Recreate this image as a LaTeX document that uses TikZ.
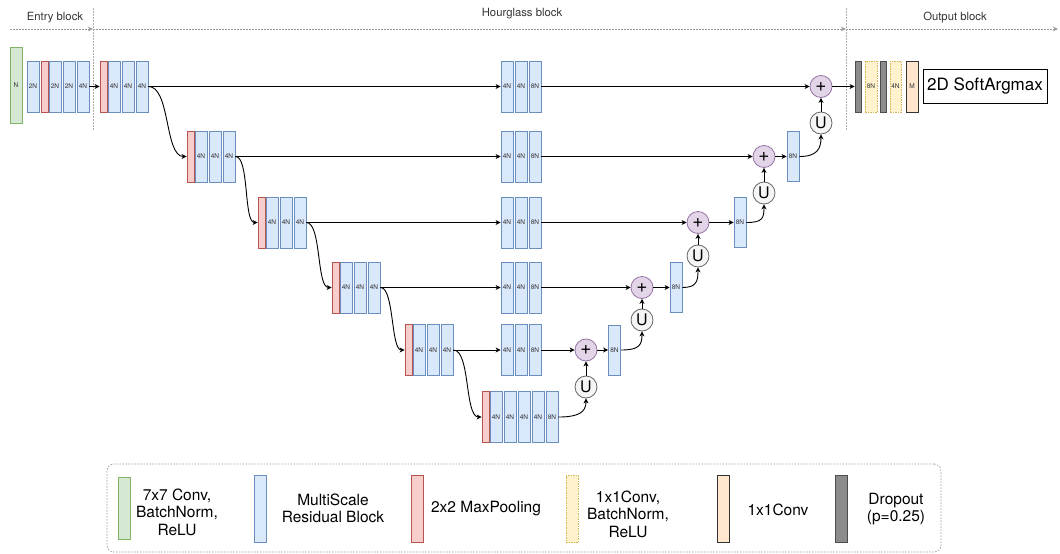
\documentclass[tikz,border=0pt]{standalone}
\usepackage{fontspec}
\setmainfont{TeX Gyre Heros}
\usetikzlibrary{arrows.meta}
\definecolor{blF}{HTML}{DAE8FC}\definecolor{blS}{HTML}{6C8EBF}
\definecolor{rdF}{HTML}{F8CECC}\definecolor{rdS}{HTML}{B85450}
\definecolor{grF}{HTML}{D5E8D4}\definecolor{grS}{HTML}{82B366}
\definecolor{puF}{HTML}{E1D5E7}\definecolor{puS}{HTML}{9673A6}
\definecolor{uF}{HTML}{F5F5F5}\definecolor{uS}{HTML}{666666}
\definecolor{yeF}{HTML}{FFF2CC}\definecolor{yeS}{HTML}{D6B656}
\definecolor{orF}{HTML}{FFE6CC}\definecolor{orS}{HTML}{333333}
\definecolor{gyF}{HTML}{8C8C8C}\definecolor{gyS}{HTML}{4D4D4D}
\definecolor{txt}{HTML}{333333}
\definecolor{dv}{HTML}{9A9A9A}
\tikzset{
  base/.style={line width=0.8pt, inner sep=0pt, minimum height=51pt, text=txt, font=\fontsize{6.5}{7}\selectfont},
  blk/.style={base, draw=blS, fill=blF, minimum width=12pt},
  mpb/.style={base, draw=rdS, fill=rdF, minimum width=7pt},
  cbr/.style={base, draw=grS, fill=grF, minimum width=12pt},
  yeb/.style={base, draw=yeS, fill=yeF, minimum width=12pt, dash pattern=on 1.5pt off 1pt},
  orb/.style={base, draw=orS, fill=orF, minimum width=12pt},
  gyb/.style={base, draw=gyS, fill=gyF, minimum width=6pt},
  plusn/.style={circle, draw=puS, fill=puF, line width=0.8pt, minimum size=22pt, inner sep=0pt, font=\fontsize{19}{19}\selectfont},
  upn/.style={circle, draw=uS, fill=uF, line width=0.8pt, minimum size=22pt, inner sep=0pt, font=\fontsize{16}{16}\selectfont},
  arr/.style={-{Stealth[length=5pt,width=5pt,inset=1.5pt]}, line width=0.9pt, black},
  topline/.style={draw=dv, line width=0.7pt, dash pattern=on 1.5pt off 1.5pt, -{Stealth[length=5pt,width=4.5pt,inset=1.5pt]}},
  divider/.style={draw=dv!80, line width=0.7pt, dash pattern=on 1.5pt off 1.5pt},
  toplab/.style={font=\fontsize{11.3}{12}\selectfont, text=txt},
  legtxt/.style={font=\fontsize{15.5}{17.5}\selectfont, align=center, text=black},
}
\begin{document}
\begin{tikzpicture}[x=1pt,y=-1pt]
\useasboundingbox (0,0) rectangle (1060,554);

% top labels and separators
\coordinate (t0) at (10,29);
\coordinate (t1) at (93,29);
\coordinate (t2) at (846,29);
\coordinate (t3) at (1058,29);
\draw[topline] (t0) -- (t1);
\draw[topline] (t1) -- (t2);
\draw[topline] (t2) -- (t3);
\coordinate (v1a) at (93,8); \coordinate (v1b) at (93,131);
\coordinate (v2a) at (846,8); \coordinate (v2b) at (846,131);
\draw[divider] (v1a) -- (v1b);
\draw[divider] (v2a) -- (v2b);
\node[toplab] (lab1) at (55,18) {Entry block};
\node[toplab] (lab2) at (522,13.5) {Hourglass block};
\node[toplab] (lab3) at (955,18) {Output block};

% entry block
\node[cbr, minimum height=76pt] (e0) at (16,85) {N};
\node[blk] (e1) at (33,86.5) {2N};
\node[mpb] (e2) at (44.5,86.5) {};
\node[blk] (e3) at (55,86.5) {2N};
\node[blk] (e4) at (69,86.5) {2N};
\node[blk] (e5) at (83,86.5) {4N};

% encoder rows
\node[mpb] (r1m) at (103.5,86.5) {};
\node[blk] (r1a) at (114,86.5) {4N};
\node[blk] (r1b) at (128,86.5) {4N};
\node[blk] (r1c) at (142,86.5) {4N};

\node[mpb] (r2m) at (190.5,156.5) {};
\node[blk] (r2a) at (201,156.5) {4N};
\node[blk] (r2b) at (215,156.5) {4N};
\node[blk] (r2c) at (229,156.5) {4N};

\node[mpb] (r3m) at (261.5,222.5) {};
\node[blk] (r3a) at (272,222.5) {4N};
\node[blk] (r3b) at (286,222.5) {4N};
\node[blk] (r3c) at (300,222.5) {4N};

\node[mpb] (r4m) at (335.5,287.5) {};
\node[blk] (r4a) at (346,287.5) {4N};
\node[blk] (r4b) at (360,287.5) {4N};
\node[blk] (r4c) at (374,287.5) {4N};

\node[mpb] (r5m) at (408.5,350) {};
\node[blk] (r5a) at (419,350) {4N};
\node[blk] (r5b) at (433,350) {4N};
\node[blk] (r5c) at (447,350) {4N};

\node[mpb] (r6m) at (485.5,417) {};
\node[blk] (r6a) at (496,417) {4N};
\node[blk] (r6b) at (510,417) {4N};
\node[blk] (r6c) at (524,417) {4N};
\node[blk] (r6d) at (538,417) {4N};
\node[blk] (r6e) at (552,417) {8N};

% skip blocks
\foreach \r/\y in {1/86.5,2/156.5,3/222.5,4/287.5,5/350}{
  \node[blk] (s\r a) at (507,\y) {4N};
  \node[blk] (s\r b) at (521,\y) {4N};
  \node[blk] (s\r c) at (535,\y) {8N};
}

% decoder
\node[blk, minimum height=50pt] (d2) at (793,156.5) {8N};
\node[blk, minimum height=50pt] (d3) at (740,222.5) {8N};
\node[blk, minimum height=50pt] (d4) at (676,287.5) {8N};
\node[blk, minimum height=50pt] (d5) at (614.5,350) {8N};

\node[plusn] (p1) at (821,86.5) {+};
\node[plusn] (p2) at (764,156.5) {+};
\node[plusn] (p3) at (698,222.5) {+};
\node[plusn] (p4) at (642,287.5) {+};
\node[plusn] (p5) at (586,350) {+};

\node[upn] (u1) at (821,123) {U};
\node[upn] (u2) at (764,193) {U};
\node[upn] (u3) at (698,256) {U};
\node[upn] (u4) at (642,320) {U};
\node[upn] (u5) at (586,387) {U};

% output block
\node[gyb] (o1) at (858,86.5) {};
\node[yeb] (o2) at (871,86.5) {8N};
\node[gyb] (o3) at (883,86.5) {};
\node[yeb, minimum width=11pt] (o4) at (895.5,86.5) {4N};
\node[orb] (o5) at (912,86.5) {M};
\node[draw=black, line width=1pt, minimum width=124pt, minimum height=34pt, inner sep=0pt, font=\fontsize{17}{17}\selectfont] (sa) at (985,86) {2D SoftArgmax};

% connectors
\draw[arr] (e5) -- (r1m);
\draw[arr] (r1c) -- (s1a);
\draw[arr] (r2c) -- (s2a);
\draw[arr] (r3c) -- (s3a);
\draw[arr] (r4c) -- (s4a);
\draw[arr] (r5c) -- (s5a);

\draw[arr] (r1c.east) .. controls +(22,0) and +(-22,0) .. (r2m.west);
\draw[arr] (r2c.east) .. controls +(14,0) and +(-14,0) .. (r3m.west);
\draw[arr] (r3c.east) .. controls +(15,0) and +(-15,0) .. (r4m.west);
\draw[arr] (r4c.east) .. controls +(14,0) and +(-14,0) .. (r5m.west);
\draw[arr] (r5c.east) .. controls +(17,0) and +(-17,0) .. (r6m.west);

\draw[arr] (s1c) -- (p1);
\draw[arr] (s2c) -- (p2);
\draw[arr] (s3c) -- (p3);
\draw[arr] (s4c) -- (p4);
\draw[arr] (s5c) -- (p5);

\draw[arr] (p1) -- (o1);
\draw[arr] (p2) -- (d2);
\draw[arr] (p3) -- (d3);
\draw[arr] (p4) -- (d4);
\draw[arr] (p5) -- (d5);

\draw[arr] (d2.east) .. controls +(18,0) and +(0,14) .. (u1.south);
\draw[arr] (d3.east) .. controls +(16,0) and +(0,14) .. (u2.south);
\draw[arr] (d4.east) .. controls +(14,0) and +(0,14) .. (u3.south);
\draw[arr] (d5.east) .. controls +(18,0) and +(0,14) .. (u4.south);
\draw[arr] (r6e.east) .. controls +(20,0) and +(0,14) .. (u5.south);

\draw[arr] (u1) -- (p1);
\draw[arr] (u2) -- (p2);
\draw[arr] (u3) -- (p3);
\draw[arr] (u4) -- (p4);
\draw[arr] (u5) -- (p5);

% legend
\node[draw=dv, line width=0.7pt, dash pattern=on 1.5pt off 1.5pt, rounded corners=7pt, minimum width=834pt, minimum height=88pt, inner sep=0pt] (leg) at (524,508) {};
\node[cbr, minimum height=62pt] (lg1) at (124.5,508) {};
\node[legtxt] (lt1) at (177,512) {7x7 Conv,\\BatchNorm,\\ReLU};
\node[blk, minimum height=67pt] (lg2) at (260,508.5) {};
\node[legtxt] (lt2) at (333,508.5) {MultiScale\\Residual Block};
\node[mpb, minimum width=12pt, minimum height=67pt] (lg3) at (417,508.5) {};
\node[legtxt] (lt3) at (486,509) {2x2 MaxPooling};
\node[yeb, minimum height=67pt] (lg4) at (572,509) {};
\node[legtxt] (lt4) at (628,514) {1x1Conv,\\BatchNorm,\\ReLU};
\node[orb, minimum height=67pt] (lg5) at (723,509) {};
\node[legtxt] (lt5) at (778,510) {1x1Conv};
\node[gyb, minimum width=12pt, minimum height=67pt] (lg6) at (841,509) {};
\node[legtxt] (lt6) at (896,509) {Dropout\\(p=0.25)};
\end{tikzpicture}
\end{document}
